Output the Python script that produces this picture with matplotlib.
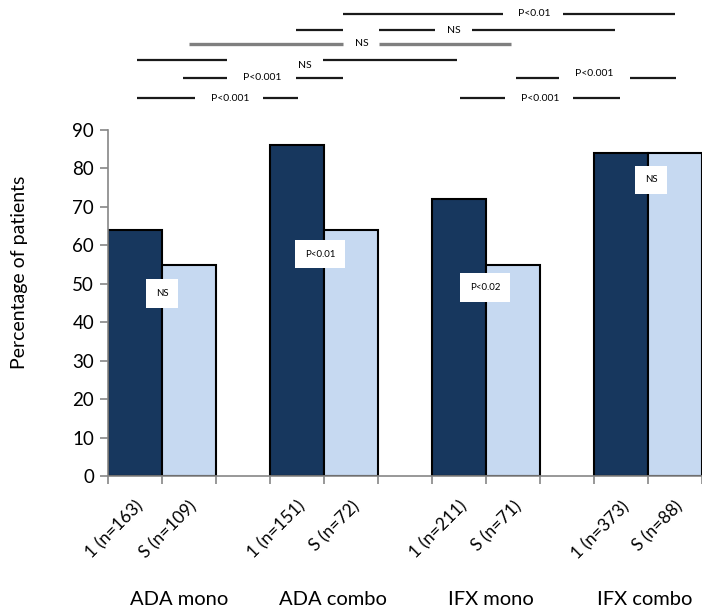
import matplotlib
matplotlib.use("Agg")
import matplotlib.pyplot as plt

plt.rcParams['font.family'] = ['Lato', 'DejaVu Sans']

# bar heights (% of patients) per cohort, first-line (1) vs switch (S)
groups = ['ADA mono', 'ADA combo', 'IFX mono', 'IFX combo']
first_line = [64, 86, 72, 84]
switched = [55, 64, 55, 84]
first_labels = ['1 (n=163)', '1 (n=151)', '1 (n=211)', '1 (n=373)']
switch_labels = ['S (n=109)', 'S (n=72)', 'S (n=71)', 'S (n=88)']

# in-bar comparison 1 vs S
pair_p = ['NS', 'P<0.01', 'P<0.02', 'NS']
pair_box_y = [47.5, 57.7, 49, 77]
pair_box_dx = [0.0, -0.07, -0.02, 0.06]

# comparisons between cohorts drawn above the plot: y, line pieces, label, label pos
brackets = [
    (120.2, [(3.85, 6.81), (7.93, 10.0)], 'P<0.01', 7.39, 120.2),
    (116.0, [(2.98, 3.85), (4.52, 5.56), (6.24, 8.89)], 'NS', 5.91, 116.0),
    (112.4, [(1.0, 3.85), (4.52, 6.96)], 'NS', 4.20, 112.4),
    (108.2, [(0.04, 1.70), (3.48, 5.96)], 'NS', 3.15, 106.9),
    (103.5, [(0.89, 1.70), (2.98, 3.85)], 'P<0.001', 2.35, 103.7),
    (103.5, [(7.06, 7.85), (9.17, 10.02)], 'P<0.001', 8.50, 104.8),
    (98.3, [(0.04, 1.11), (2.37, 3.02)], 'P<0.001', 1.76, 98.3),
    (98.3, [(6.02, 6.85), (8.11, 8.98)], 'P<0.001', 7.50, 98.3),
]

dark = '#17375E'
light = '#C6D9F1'
axis_grey = '#868686'

fig = plt.figure(figsize=(7.02, 6.15), dpi=100)
ax = fig.add_axes([108 / 702, 139 / 615, 594 / 702, 346 / 615])

# each cohort takes three slots: 1, S, empty gap
x_first = [3 * i for i in range(len(groups))]
x_switch = [3 * i + 1 for i in range(len(groups))]

ax.bar(x_first, first_line, width=1.0, color=dark, edgecolor='black', linewidth=1.5, zorder=2)
ax.bar(x_switch, switched, width=1.0, color=light, edgecolor='black', linewidth=1.5, zorder=2)

ax.set_xlim(-0.5, 10.5)
ax.set_ylim(0, 90)
ax.set_yticks(range(0, 91, 10))
ax.tick_params(axis='y', labelsize=13.5, length=6, width=1.2, color=axis_grey, pad=4)

ax.set_xticks(x_first + x_switch)
ax.set_xticklabels(first_labels + switch_labels, rotation=45, ha='right',
                   rotation_mode='anchor', fontsize=12.5)
ax.tick_params(axis='x', length=0, pad=16)
ax.set_xticks([k - 0.5 for k in range(12)], minor=True)
ax.tick_params(axis='x', which='minor', length=6, width=1.2, color=axis_grey)

for s in ['top', 'right']:
    ax.spines[s].set_visible(False)
for s in ['left', 'bottom']:
    ax.spines[s].set_color(axis_grey)
    ax.spines[s].set_linewidth(1.2)

ax.set_ylabel('Percentage of patients', fontsize=14)
ax.yaxis.set_label_coords(-0.135, 0.59)

# cohort names under the rotated labels
group_label_x = [0.81, 3.67, 6.59, 9.43]
for gx, name in zip(group_label_x, groups):
    ax.text(gx, -32.2, name, ha='center', va='center', fontsize=14.5, clip_on=False)

for xf, dx, yb, p in zip(x_first, pair_box_dx, pair_box_y, pair_p):
    ax.text(xf + 0.5 + dx, yb, p, ha='center', va='center', fontsize=7, zorder=4,
            bbox=dict(boxstyle='square,pad=1.0', facecolor='white', edgecolor='none'))

for y, pieces, label, lx, ly in brackets:
    grey_row = (label == 'NS' and y == 112.4)
    for x0, x1 in pieces:
        ax.plot([x0, x1], [y, y], color='#7F7F7F' if grey_row else '#1a1a1a',
                linewidth=2.4 if grey_row else 1.6, clip_on=False, solid_capstyle='butt')
    ax.text(lx, ly, label, ha='center', va='center', fontsize=7.5, clip_on=False)

fig.savefig('out.png', dpi=100)
